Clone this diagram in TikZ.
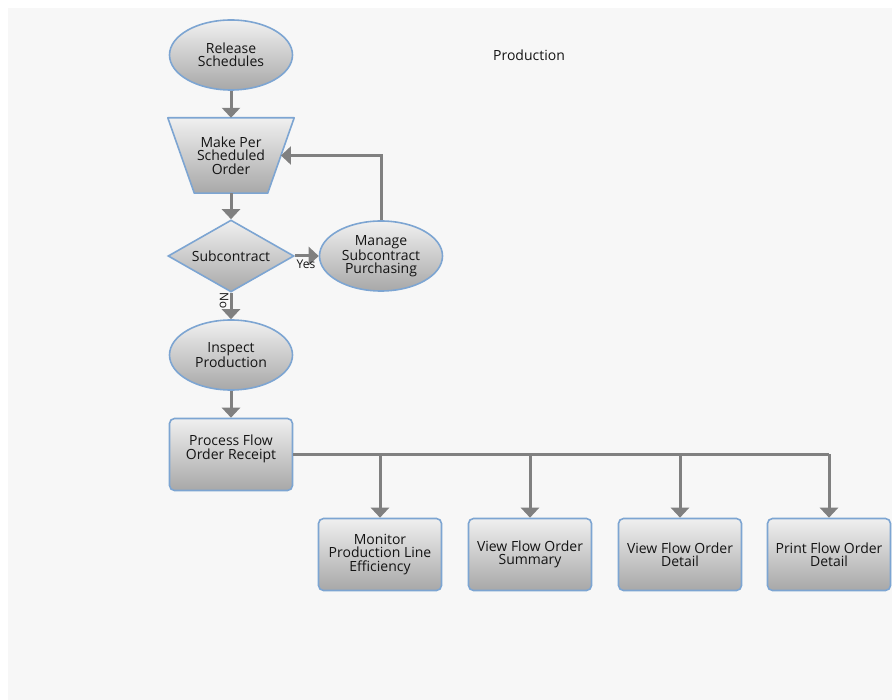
\documentclass[tikz,border=0pt]{standalone}
\usepackage{fontspec}
\setmainfont{Open Sans}
\usetikzlibrary{shapes.geometric,arrows.meta,calc}
\definecolor{bord}{RGB}{125,165,210}
\definecolor{arr}{RGB}{128,128,128}
\definecolor{bg}{RGB}{247,247,247}
\definecolor{ftop}{RGB}{240,240,240}
\definecolor{fbot}{RGB}{168,168,168}
\begin{document}
\begin{tikzpicture}[x=1pt,y=-1pt, font=\fontsize{14}{13.5}\selectfont,
 skin/.style={draw=bord, line width=1.6pt, top color=ftop, bottom color=fbot},
 base/.style={skin, align=center, inner sep=0pt, text=black!92},
 oval/.style={base, ellipse, minimum width=123pt, minimum height=70pt},
 box/.style={base, rectangle, rounded corners=5pt, minimum width=123pt, minimum height=72pt},
 dec/.style={base, diamond, aspect=1.75, minimum width=126pt, minimum height=72pt},
 trapbody/.style={align=center, inner sep=0pt, text=black!92, minimum width=126pt, minimum height=75pt},
 conn/.style={draw=arr, line width=3pt, -{Triangle[width=18pt,length=10pt]}},
 plain/.style={draw=arr, line width=3pt},
 small/.style={font=\fontsize{12}{12}\selectfont, text=black!92, inner sep=1pt}]
\useasboundingbox (0,0) rectangle (892,700);
\fill[white] (0,0) rectangle (892,700);
\fill[bg] (8,8) rectangle (892,700);

\node[text=black!92] (title) at (529,55) {Production};

\node[oval] (rs) at (231,55) {Release\\Schedules};
% trapezium drawn directly
\node[trapbody] (mps) at (231,155.5) {};
\coordinate (mpsbr) at ($(mps.south east)+(-26.5,0)$);
\coordinate (mpsbl) at ($(mps.south west)+(26.5,0)$);
\path[skin, line join=round] (mps.north west) -- (mps.north east) -- (mpsbr) -- (mpsbl) -- cycle;
\node[trapbody] at (mps) {Make Per\\Scheduled\\Order};
\coordinate (mpsr) at ($(mps.north east)!0.5!(mpsbr)$);

\node[dec] (sub) at (231,256) {Subcontract};
\node[oval] (msp) at (381,256) {Manage\\Subcontract\\Purchasing};
\node[oval] (ip) at (231,355) {Inspect\\Production};
\node[box] (pfr) at (231,454.5) {Process Flow\\Order Receipt\\[1pt]};

\node[box] (b1) at (380,554.5) {Monitor\\Production Line\\Efficiency};
\node[box] (b2) at (530,554.5) {View Flow Order\\Summary};
\node[box] (b3) at (680,554.5) {View Flow Order\\Detail};
\node[box] (b4) at (829,554.5) {Print Flow Order\\Detail};

\draw[conn] (rs) -- (mps);
\draw[conn] (mps) -- (sub);
\draw[conn] (sub) -- (msp);
\node[small] (yes) at (306,264) {Yes};
\draw[conn] (sub) -- (ip);
\node[small, rotate=-90] (no) at (224,301) {No};
\draw[conn] (msp.north) |- (mpsr);
\draw[conn] (ip) -- (pfr);

\coordinate (j1) at (b1.north |- pfr.east);
\coordinate (j2) at (b2.north |- pfr.east);
\coordinate (j3) at (b3.north |- pfr.east);
\coordinate (j4) at (b4.north |- pfr.east);
\draw[plain] (pfr.east) -- (j4);
\draw[conn] (j1) -- (b1);
\draw[conn] (j2) -- (b2);
\draw[conn] (j3) -- (b3);
\draw[conn] (j4) -- (b4);
\end{tikzpicture}
\end{document}
